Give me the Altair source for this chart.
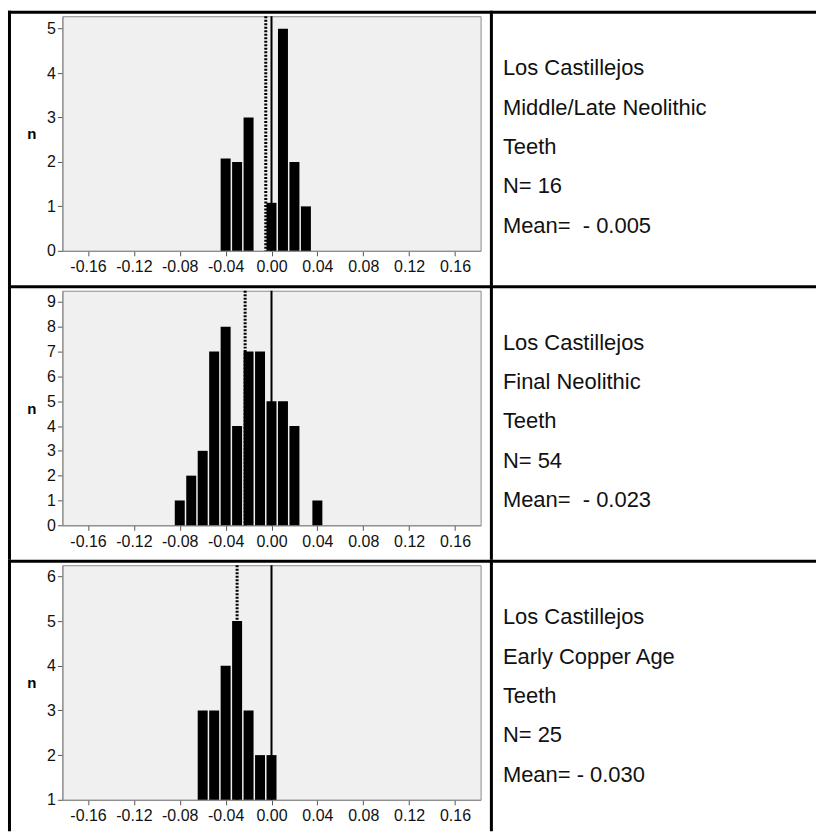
import altair as alt
import pandas as pd

# ---------------- data ----------------
X_TICKS = [-0.16, -0.12, -0.08, -0.04, 0.0, 0.04, 0.08, 0.12, 0.16]
X_DOMAIN = [-0.178, 0.178]

SITES = ["Los Castillejos", "Los Castillejos", "Los Castillejos"]
PERIODS = ["Middle/Late Neolithic", "Final Neolithic", "Early Copper Age"]
TISSUES = ["Teeth", "Teeth", "Teeth"]
N_LABELS = ["N= 16", "N= 54", "N= 25"]
MEAN_LABELS = ["Mean=\u00a0\u00a0- 0.005", "Mean=\u00a0\u00a0- 0.023", "Mean=\u00a0- 0.030"]
MEANS = [-0.005, -0.023, -0.030]
REFERENCE = [0.0, 0.0, 0.0]

BINS_1 = [-0.04, -0.03, -0.02, 0.00, 0.01, 0.02, 0.03]
COUNTS_1 = [2.08, 2, 3, 1.08, 5, 2, 1]

BINS_2 = [-0.08, -0.07, -0.06, -0.05, -0.04, -0.03, -0.02, -0.01, 0.00, 0.01, 0.02, 0.04]
COUNTS_2 = [1, 2, 3, 7, 8, 4, 7, 7, 5, 5, 4, 1]

BINS_3 = [-0.06, -0.05, -0.04, -0.03, -0.02, -0.01, 0.00]
COUNTS_3 = [3, 3, 4, 5, 3, 2, 2]

BINS = [BINS_1, BINS_2, BINS_3]
COUNTS = [COUNTS_1, COUNTS_2, COUNTS_3]
Y_DOMAINS = [[0, 5.28], [0, 9.45], [1, 6.25]]
Y_TICKS = [[0, 1, 2, 3, 4, 5], [0, 1, 2, 3, 4, 5, 6, 7, 8, 9], [1, 2, 3, 4, 5, 6]]
BASELINES = [0, 0, 1]

# ---------------- layout constants (pixels, relative to each plot area) ----------------
W, H = 419, 235
ROW_STEP = 275
FONT = "Liberation Sans"
AXIS_FS = 16


def row_chart(i):
    bars_df = pd.DataFrame({"v": BINS[i], "n": COUNTS[i]})
    bars_df["base"] = BASELINES[i]

    x_enc = alt.X(
        "v:Q",
        title=None,
        scale=alt.Scale(domain=X_DOMAIN, nice=False, zero=False),
        axis=alt.Axis(
            values=X_TICKS,
            labelExpr="replace(format(datum.value, '.2f'), '\u2212', '-')",
            grid=False,
            labelFont=FONT,
            labelFontSize=AXIS_FS,
            labelPadding=3,
            tickSize=5,
        ),
    )
    y_scale = alt.Scale(domain=Y_DOMAINS[i], nice=False, zero=False)

    bars = alt.Chart(bars_df).mark_bar(size=10, color="black").encode(
        x=x_enc,
        y=alt.Y(
            "n:Q",
            scale=y_scale,
            axis=alt.Axis(
                values=Y_TICKS[i],
                format="d",
                grid=False,
                labelFont=FONT,
                labelFontSize=AXIS_FS,
                labelPadding=2,
                tickSize=5,
                title="n",
                titleAngle=0,
                titleX=-31,
                titleY=H / 2,
                titleAlign="center",
                titleBaseline="middle",
                titleFontWeight="bold",
                titleFontSize=15,
                titleFont=FONT,
            ),
        ),
        y2="base:Q",
    )

    zero_rule = alt.Chart(pd.DataFrame({"v": [REFERENCE[i]]})).mark_rule(
        color="black", strokeWidth=2
    ).encode(x=alt.X("v:Q"))

    mean_rule = alt.Chart(pd.DataFrame({"v": [MEANS[i]]})).mark_rule(
        color="black", strokeWidth=3, strokeDash=[2, 1.5]
    ).encode(x=alt.X("v:Q"))

    # cell frame (table borders)
    bottom = ROW_STEP - 5.5 if i < 2 else 266.5
    one = pd.DataFrame({"k": [0]})
    frame_top = alt.Chart(one).mark_rect(color="black").encode(
        x=alt.value(-54.5), x2=alt.value(755), y=alt.value(-5.5), y2=alt.value(-2.5)
    )
    frame_left = alt.Chart(one).mark_rect(color="black").encode(
        x=alt.value(-54.5), x2=alt.value(-51.5), y=alt.value(-5.5), y2=alt.value(bottom)
    )
    frame_mid = alt.Chart(one).mark_rect(color="black").encode(
        x=alt.value(428.3), x2=alt.value(431.3), y=alt.value(-5.5), y2=alt.value(bottom)
    )

    label_text = "\n".join([SITES[i], PERIODS[i], TISSUES[i], N_LABELS[i], MEAN_LABELS[i]])
    text = alt.Chart(pd.DataFrame({"t": [label_text]})).mark_text(
        align="left",
        baseline="alphabetic",
        lineBreak="\n",
        lineHeight=39.5,
        fontSize=22,
        font=FONT,
        color="#111111",
    ).encode(x=alt.value(441.3), y=alt.value(59), text="t:N")

    return alt.layer(
        zero_rule, mean_rule, bars, frame_top, frame_left, frame_mid, text
    ).properties(width=W, height=H)


chart = alt.vconcat(
    row_chart(0), row_chart(1), row_chart(2), spacing=ROW_STEP - H, bounds="flush"
).properties(
    padding={"left": 7.5, "top": 9.5, "right": 0, "bottom": 0},
    background="white",
).configure_view(
    fill="#f0f0f0", stroke="#8a8a8a", strokeWidth=1
).configure_axis(
    domainColor="#8a8a8a",
    tickColor="#555555",
    labelColor="#111111",
)

chart.save("out.html", embed_options={"renderer": "svg", "actions": False})
